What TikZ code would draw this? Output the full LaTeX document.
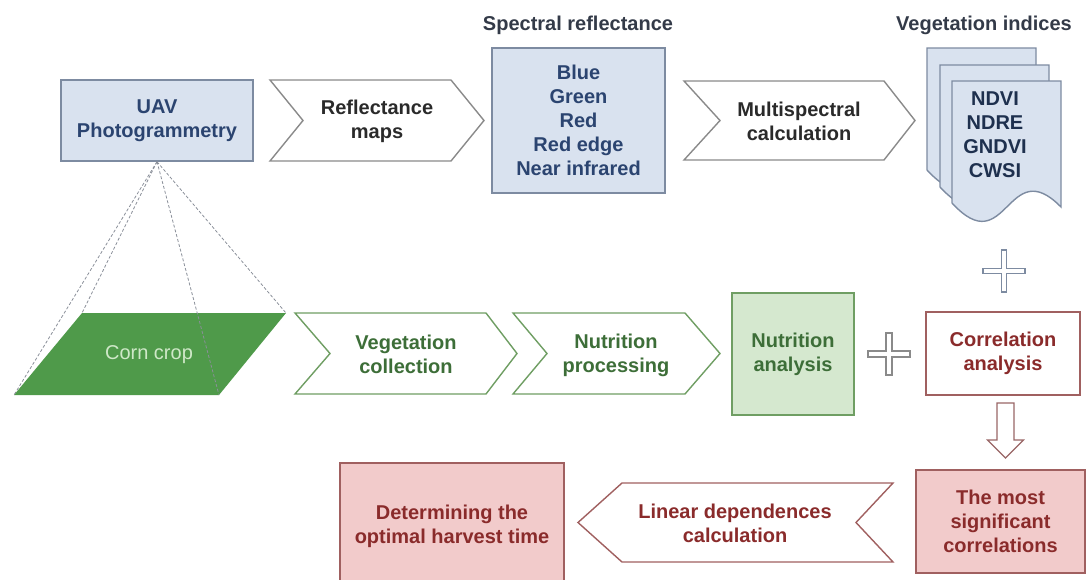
\documentclass[tikz,border=0pt]{standalone}
\usepackage{fontspec}
\setmainfont{Liberation Sans}
\definecolor{bfill}{HTML}{D9E2EF}
\definecolor{bline}{HTML}{7D8BA1}
\definecolor{btext}{HTML}{2B4470}
\definecolor{ttext}{HTML}{333A48}
\definecolor{gline}{HTML}{8A8A8A}
\definecolor{gtext}{HTML}{2A2A2A}
\definecolor{gdark}{HTML}{4F9A4A}
\definecolor{corntext}{HTML}{CFE8C8}
\definecolor{grline}{HTML}{6F9E63}
\definecolor{grtext}{HTML}{3D6E38}
\definecolor{grfill}{HTML}{D5E8CF}
\definecolor{rline}{HTML}{A06060}
\definecolor{rtext}{HTML}{8A2B2B}
\definecolor{rfill}{HTML}{F2CBCB}
\definecolor{dash}{HTML}{8A8F99}
\begin{document}
\begin{tikzpicture}[x=1pt,y=-1pt,
  txt/.style={font=\bfseries\fontsize{20}{24}\selectfont, align=center, inner sep=0pt},
  bluebox/.style={txt, draw=bline, fill=bfill, line width=1.4pt, text=btext},
  grbox/.style={txt, draw=grline, fill=grfill, line width=1.4pt, text=grtext},
  rwbox/.style={txt, draw=rline, fill=white, line width=1.4pt, text=rtext},
  rpbox/.style={txt, draw=rline, fill=rfill, line width=1.4pt, text=rtext},
  graychev/.style={draw=gline, fill=white, line width=1.4pt, line join=miter},
  greenchev/.style={draw=grline, fill=white, line width=1.4pt},
  redchev/.style={draw=rline, fill=white, line width=1.4pt},
  docshape/.style={draw=bline, fill=bfill, line width=1.4pt},
  dashline/.style={draw=dash, line width=0.8pt, dash pattern=on 3pt off 2pt},
  plusshape/.style={line width=1.1pt, fill=white}
]
\useasboundingbox (0,0) rectangle (1087,579);
\clip (0,0) rectangle (1087,579);

% ---------- top row ----------
\node[bluebox, minimum width=192pt, minimum height=81pt] (uav) at (157,120.5) {UAV\\Photogrammetry};

\draw[graychev] (270,80) -- (451,80) -- (484,120.5) -- (451,161) -- (270,161) -- (303,120.5) -- cycle;
\node[txt, text=gtext] (refl) at (377,121.5) {Reflectance\\maps};

\node[txt, text=ttext] (spt) at (578,25) {Spectral reflectance};
\node[bluebox, minimum width=173pt, minimum height=145pt] (spec) at (578.5,120.5) {Blue\\Green\\Red\\Red edge\\Near infrared};

\draw[graychev] (684,81) -- (884,81) -- (915,120.5) -- (884,160) -- (684,160) -- (720,120.5) -- cycle;
\node[txt, text=gtext] (multi) at (799,121.5) {Multispectral\\calculation};

\node[txt, text=ttext] (vit) at (984,25) {Vegetation indices};
\draw[docshape] (927,48) -- (1036,48) -- (1036,174) .. controls (982,119) and (982,230) .. (927,170) -- cycle;
\draw[docshape] (940,65) -- (1049,65) -- (1049,191) .. controls (995,136) and (995,247) .. (940,187) -- cycle;
\draw[docshape] (952,81) -- (1061,81) -- (1061,207) .. controls (1007,152) and (1007,263) .. (952,203) -- cycle;
\node[txt, text=btext!70!black] (vi) at (995,135) {NDVI\\NDRE\\GNDVI\\CWSI};

% plus (blue)
\draw[plusshape, draw=bline] (1001.5,250) -- (1006.5,250) -- (1006.5,268.5) -- (1025,268.5) -- (1025,273.5) -- (1006.5,273.5) -- (1006.5,292) -- (1001.5,292) -- (1001.5,273.5) -- (983,273.5) -- (983,268.5) -- (1001.5,268.5) -- cycle;

% ---------- middle row ----------
\coordinate (pTL) at (82,313);
\coordinate (pTR) at (286,313);
\coordinate (pBR) at (219,395);
\coordinate (pBL) at (14,395);
\fill[gdark] (pTL) -- (pTR) -- (pBR) -- (pBL) -- cycle;
\node[font=\fontsize{20}{24}\selectfont, text=corntext, inner sep=0pt] (corn) at (149,355) {Corn crop};

\draw[dashline] (uav.south) -- (pBL);
\draw[dashline] (uav.south) -- (pTL);
\draw[dashline] (uav.south) -- (pBR);
\draw[dashline] (uav.south) -- (pTR);

\draw[greenchev] (295,313) -- (486,313) -- (517,353.5) -- (486,394) -- (295,394) -- (330,353.5) -- cycle;
\node[txt, text=grtext] (vcol) at (406,354) {Vegetation\\collection};

\draw[greenchev] (513,313) -- (685,313) -- (720,353.5) -- (685,394) -- (513,394) -- (547,353.5) -- cycle;
\node[txt, text=grtext] (nproc) at (616,355) {Nutrition\\processing};

\node[grbox, minimum width=122pt, minimum height=122pt] (nana) at (793,354) {Nutrition\\analysis};

% plus (grey)
\draw[plusshape, draw=gline] (886,333) -- (892,333) -- (892,351) -- (910,351) -- (910,357) -- (892,357) -- (892,375) -- (886,375) -- (886,357) -- (868,357) -- (868,351) -- (886,351) -- cycle;

\node[rwbox, minimum width=154pt, minimum height=83pt] (corr) at (1003,353.5) {Correlation\\analysis};

% hollow down arrow
\draw[line width=1.2pt, draw=rline!80!gray, fill=white] (997,403) -- (1014,403) -- (1014,440) -- (1023.5,440) -- (1005.5,458) -- (987.5,440) -- (997,440) -- cycle;

% ---------- bottom row ----------
\node[rpbox, minimum width=169pt, minimum height=103pt] (most) at (1000.5,521.5) {The most\\significant\\correlations};

\draw[redchev] (578,522.5) -- (622,483) -- (893,483) -- (856,522.5) -- (893,562) -- (622,562) -- cycle;
\node[txt, text=rtext] (lin) at (735,523) {Linear dependences\\calculation};

\node[rpbox, minimum width=224pt, minimum height=127pt] (det) at (452,526.5) {Determining the\\optimal harvest time};
\end{tikzpicture}
\end{document}
